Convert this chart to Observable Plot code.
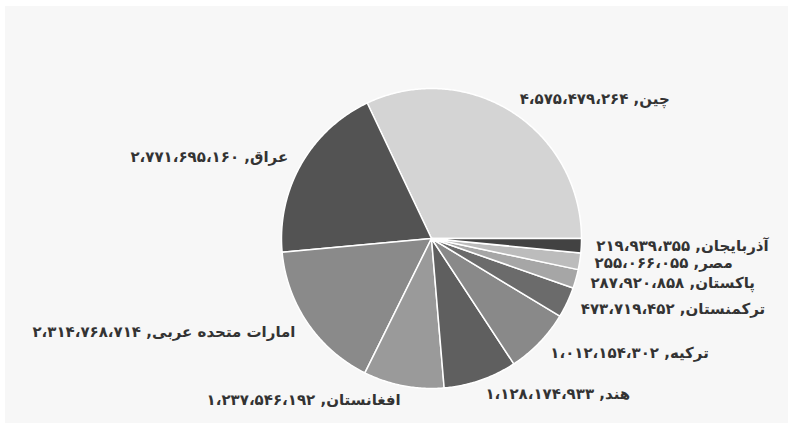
<!DOCTYPE html>
<html><head><meta charset="utf-8">
<script src="https://cdn.jsdelivr.net/npm/d3@7"></script>
<script src="https://cdn.jsdelivr.net/npm/@observablehq/plot@0.6"></script>
<style>
body{margin:0;background:#fff;width:788px;height:423px;overflow:hidden;position:relative}
#bg{position:absolute;left:5px;top:6px;right:0;bottom:0;background:#f7f7f7}
#chart{position:absolute;left:0;top:0}
</style></head><body><div id="bg"></div><div id="chart"></div>
<script>
const countries = ["چین","عراق","امارات متحده عربی","افغانستان","هند","ترکیه","ترکمنستان","پاکستان","مصر","آذربایجان"];
const values = [4575479264,2771695160,2314768714,1237546192,1128174933,1012154302,473719452,287920858,255066055,219939355];
const shades = ["#d4d4d4","#535353","#8a8a8a","#9a9a9a","#5f5f5f","#898989","#6b6b6b","#a6a6a6","#bcbcbc","#424242"];

const total = d3.sum(values);
const ends = d3.cumsum(values);
const slices = countries.map((name, i) => {
  const a0 = (ends[i] - values[i]) / total * 2 * Math.PI;
  const a1 = ends[i] / total * 2 * Math.PI;
  return {name, value: values[i], a0, a1, mid: (a0 + a1) / 2};
});
const pts = [];
for (const s of slices) {
  pts.push({name: s.name, x: 0, y: 0});
  const n = Math.max(2, Math.ceil((s.a1 - s.a0) / 0.01));
  for (let k = 0; k <= n; k++) {
    const a = s.a0 + (s.a1 - s.a0) * k / n;
    pts.push({name: s.name, x: Math.cos(a), y: Math.sin(a)});
  }
}
const fa = v => d3.format(",")(v).replace(/,/g, "\u060C").replace(/\d/g, d => "۰۱۲۳۴۵۶۷۸۹"[d]);
const labels = slices.map(s => ({
  text: "\u202B" + s.name + ", " + fa(s.value) + "\u202C",
  x: 1.1 * Math.cos(s.mid), y: 1.1 * Math.sin(s.mid), right: Math.cos(s.mid) >= 0
}));

const chart = Plot.plot({
  width: 788, height: 423, margin: 0,
  x: {domain: [-431/150, 357/150], range: [0, 788], axis: null},
  y: {domain: [-185/150, 238/150], range: [423, 0], axis: null},
  color: {type: "ordinal", domain: countries, range: shades},
  style: {background: "transparent", fontFamily: "DejaVu Sans"},
  marks: [
    Plot.line(pts, {x: "x", y: "y", z: "name", fill: "name", stroke: "#fff", strokeWidth: 1.5, curve: "linear-closed"}),
    Plot.text(labels.filter(d => d.right), {x: "x", y: "y", text: "text", textAnchor: "start", fontSize: 15, fontWeight: "bold", fill: "#333"}),
    Plot.text(labels.filter(d => !d.right), {x: "x", y: "y", text: "text", textAnchor: "end", fontSize: 15, fontWeight: "bold", fill: "#333"})
  ]
});
document.getElementById("chart").append(chart);
</script></body></html>
